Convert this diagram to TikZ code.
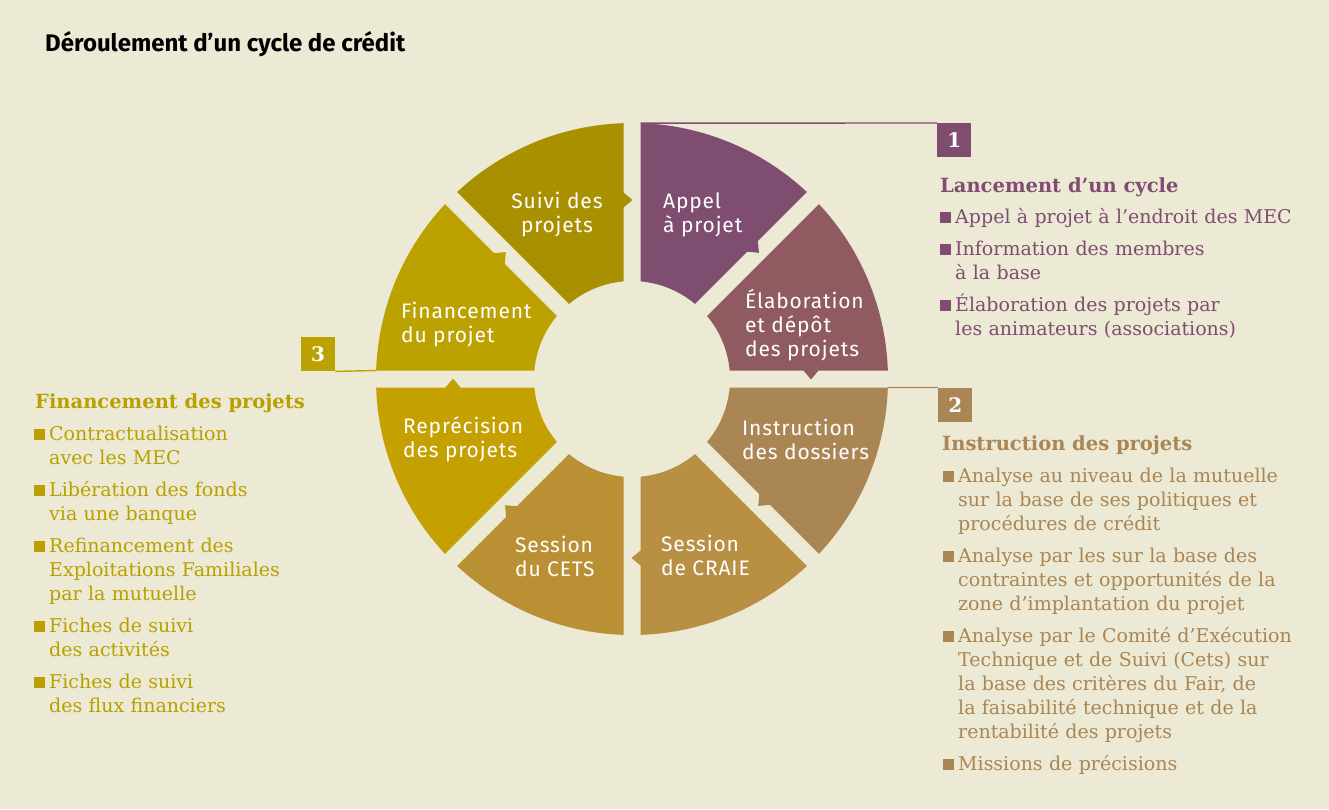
\documentclass[tikz,border=0pt]{standalone}
\usepackage{fontspec}
\setmainfont{DejaVu Serif}
\setsansfont{Fira Sans}
\newfontfamily\segfont{Fira Sans}[LetterSpace=4]
\usepackage{tikz}
\usetikzlibrary{positioning}
\usepackage{xcolor}
\definecolor{paper}{HTML}{ECE9D5}
\definecolor{appelcol}{HTML}{7F4D70}
\definecolor{elabcol}{HTML}{8F5B60}
\definecolor{instrcol}{HTML}{AA8654}
\definecolor{craiecol}{HTML}{B89044}
\definecolor{cetscol}{HTML}{B99134}
\definecolor{repreccol}{HTML}{C4A000}
\definecolor{financol}{HTML}{BCA200}
\definecolor{suivicol}{HTML}{A99000}
\definecolor{goldtxt}{HTML}{B9A000}
% ring sizes, in px
\newcommand{\ringR}{256}
\newcommand{\ringr}{98}
\newcommand{\ringgap}{8.5}
\newcommand{\notchr}{179}
\newcommand{\notchw}{7.5}
\pgfmathsetmacro{\dout}{asin(\ringgap/\ringR)}
\pgfmathsetmacro{\din}{asin(\ringgap/\ringr)}
\newcommand{\ringseg}[3]{% #1 colour, #2 trailing angle, #3 leading angle (notch side)
  \fill[#1] (#2-\dout:\ringR) arc[start angle=#2-\dout, end angle=#3+\dout, radius=\ringR]
    -- ([shift={(#3+90:\ringgap)}]#3:\notchr+\notchw)
    -- ([shift={(#3-90:0.5)}]#3:\notchr)
    -- ([shift={(#3+90:\ringgap)}]#3:\notchr-\notchw)
    -- (#3+\din:\ringr) arc[start angle=#3+\din, end angle=#2-\din, radius=\ringr] -- cycle;
}
\newcommand{\blt}{\leavevmode\llap{\rule{11.5pt}{11.5pt}\hspace{4pt}}}

\begin{document}
\begin{tikzpicture}[x=1pt, y=1pt,
    seglabel/.style={text=white, font=\segfont\fontsize{21}{24}\selectfont, align=left, inner sep=0pt, anchor=west},
    numbox/.style={minimum size=34pt, inner sep=0pt, text=white, font=\bfseries\fontsize{20}{20}\selectfont, anchor=north west},
    head/.style={font=\bfseries\fontsize{19.5}{24}\selectfont, inner sep=0pt, anchor=base west},
    blist/.style={font=\fontsize{19}{24}\selectfont, align=left, inner sep=0pt, anchor=base west},
    link/.style={line width=1.4pt}]
  \fill[paper] (0,0) rectangle (1329,-809);
  \useasboundingbox (0,0) rectangle (1329,-809);

  \node[font=\sffamily\bfseries\fontsize{24}{28}\selectfont, anchor=west, inner sep=0pt] (title) at (45,-44) {Déroulement d’un cycle de crédit};

  % the cycle, clockwise from the top
  \begin{scope}[shift={(632,-379)}]
    \ringseg{appelcol}{90}{45}
    \ringseg{elabcol}{45}{0}
    \ringseg{instrcol}{0}{-45}
    \ringseg{craiecol}{-45}{-90}
    \ringseg{cetscol}{-90}{-135}
    \ringseg{repreccol}{-135}{-180}
    \ringseg{financol}{180}{135}
    \ringseg{suivicol}{135}{90}
    \coordinate (top1) at (90-\dout:\ringR);
    \coordinate (right2) at (-\dout:\ringR);
    \coordinate (left3) at (180-\dout:\ringR);
  \end{scope}

  \node[seglabel, align=center, anchor=center] (suivi) at (557,-215) {Suivi des\\projets};
  \node[seglabel] (appel) at (663,-214.5) {Appel\\à projet};
  \node[seglabel] (elab) at (745,-325.5) {Élaboration\\et dépôt\\des projets};
  \node[seglabel] (instr) at (742,-439.5) {Instruction\\des dossiers};
  \node[seglabel] (craie) at (661,-555.5) {Session\\de CRAIE};
  \node[seglabel] (cets) at (515,-556) {Session\\du CETS};
  \node[seglabel] (reprec) at (403,-439.5) {Reprécision\\des projets};
  \node[seglabel] (finan) at (401,-325) {Financement\\du projet};

  % 1
  \node[numbox, fill=appelcol] (n1) at (937,-123) {1};
  \draw[link, appelcol] (top1) -- (n1.north west);
  \node[head, text=appelcol] (h1) at (940,-192) {Lancement d’un cycle};
  \node[blist, text=appelcol, text width=350pt] (l1) at (955,-223)
    {\blt Appel à projet à l’endroit des MEC\\[8pt]
     \blt Information des membres\\à la base\\[8pt]
     \blt Élaboration des projets par\\les animateurs (associations)};

  % 2
  \node[numbox, fill=instrcol] (n2) at (938,-387.5) {2};
  \draw[link, instrcol] (right2) -- (n2.north west);
  \node[head, text=instrcol] (h2) at (942,-450) {Instruction des projets};
  \node[blist, text=instrcol, text width=350pt] (l2) at (958,-482)
    {\blt Analyse au niveau de la mutuelle\\sur la base de ses politiques et\\procédures de crédit\\[8pt]
     \blt Analyse par les sur la base des\\contraintes et opportunités de la\\zone d’implantation du projet\\[8pt]
     \blt Analyse par le Comité d’Exécution\\Technique et de Suivi (Cets) sur\\la base des critères du Fair, de\\la faisabilité technique et de la\\rentabilité des projets\\[8pt]
     \blt Missions de précisions};

  % 3
  \node[numbox, fill=financol] (n3) at (301,-337) {3};
  \draw[link, financol] (n3.south east) -- (left3);
  \node[head, text=goldtxt] (h3) at (35,-408) {Financement des projets};
  \node[blist, text=goldtxt, text width=300pt] (l3) at (49,-440)
    {\blt Contractualisation\\avec les MEC\\[8pt]
     \blt Libération des fonds\\via une banque\\[8pt]
     \blt Refinancement des\\Exploitations Familiales\\par la mutuelle\\[8pt]
     \blt Fiches de suivi\\des activités\\[8pt]
     \blt Fiches de suivi\\des flux financiers};
\end{tikzpicture}
\end{document}
